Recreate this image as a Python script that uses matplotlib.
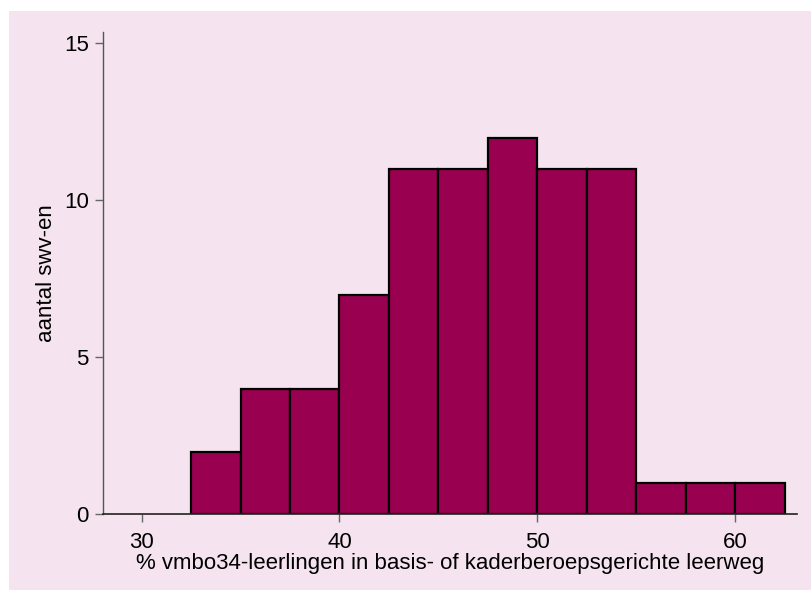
import matplotlib
matplotlib.use("Agg")
import matplotlib.pyplot as plt
from matplotlib.patches import Rectangle

# Data
bin_edges = [32.5, 35, 37.5, 40, 42.5, 45, 47.5, 50, 52.5, 55, 57.5, 60, 62.5]
counts = [2, 4, 4, 7, 11, 11, 12, 11, 11, 1, 1, 1]
x_ticks = [30, 40, 50, 60]
y_ticks = [0, 5, 10, 15]
x_label = "% vmbo34-leerlingen in basis- of kaderberoepsgerichte leerweg"
y_label = "aantal swv-en"

plt.rcParams['font.family'] = ['Liberation Sans', 'DejaVu Sans']

W, H = 811, 591
fig = plt.figure(figsize=(W / 100, H / 100), dpi=100)
fig.patch.set_facecolor('white')
pink = '#f5e4ef'
fig.patches.append(Rectangle((9 / W, 1 / H), 1, (H - 11 - 1) / H,
                             transform=fig.transFigure, facecolor=pink,
                             edgecolor='none', zorder=-10))

left, right = 103.3 / W, 797 / W
bottom, top = 1 - 514.3 / H, 1 - 31.7 / H
ax = fig.add_axes([left, bottom, right - left, top - bottom])
ax.set_facecolor(pink)

widths = [bin_edges[i + 1] - bin_edges[i] for i in range(len(counts))]
ax.bar(bin_edges[:-1], counts, width=widths, align='edge',
       color='#990050', edgecolor='black', linewidth=1.6)

ax.set_xlim(28.06, 63.13)
ax.set_ylim(0, 15.37)
ax.set_xticks(x_ticks)
ax.set_yticks(y_ticks)
ax.set_xticklabels([str(t) for t in x_ticks])
ax.set_yticklabels([str(t) for t in y_ticks])

for s in ['top', 'right']:
    ax.spines[s].set_visible(False)
ax.spines['left'].set_color('#555555')
ax.spines['bottom'].set_color('#222222')
ax.spines['left'].set_linewidth(1.0)
ax.spines['bottom'].set_linewidth(1.2)

ax.tick_params(axis='both', direction='out', length=5.5, width=1.0,
               color='#666666', labelsize=16, labelcolor='black')
ax.tick_params(axis='x', pad=7)
ax.tick_params(axis='y', pad=5)

ax.set_xlabel(x_label, fontsize=16, labelpad=0)
ax.set_ylabel(y_label, fontsize=16, labelpad=5)

fig.savefig('out.png', dpi=100, facecolor=fig.get_facecolor())
